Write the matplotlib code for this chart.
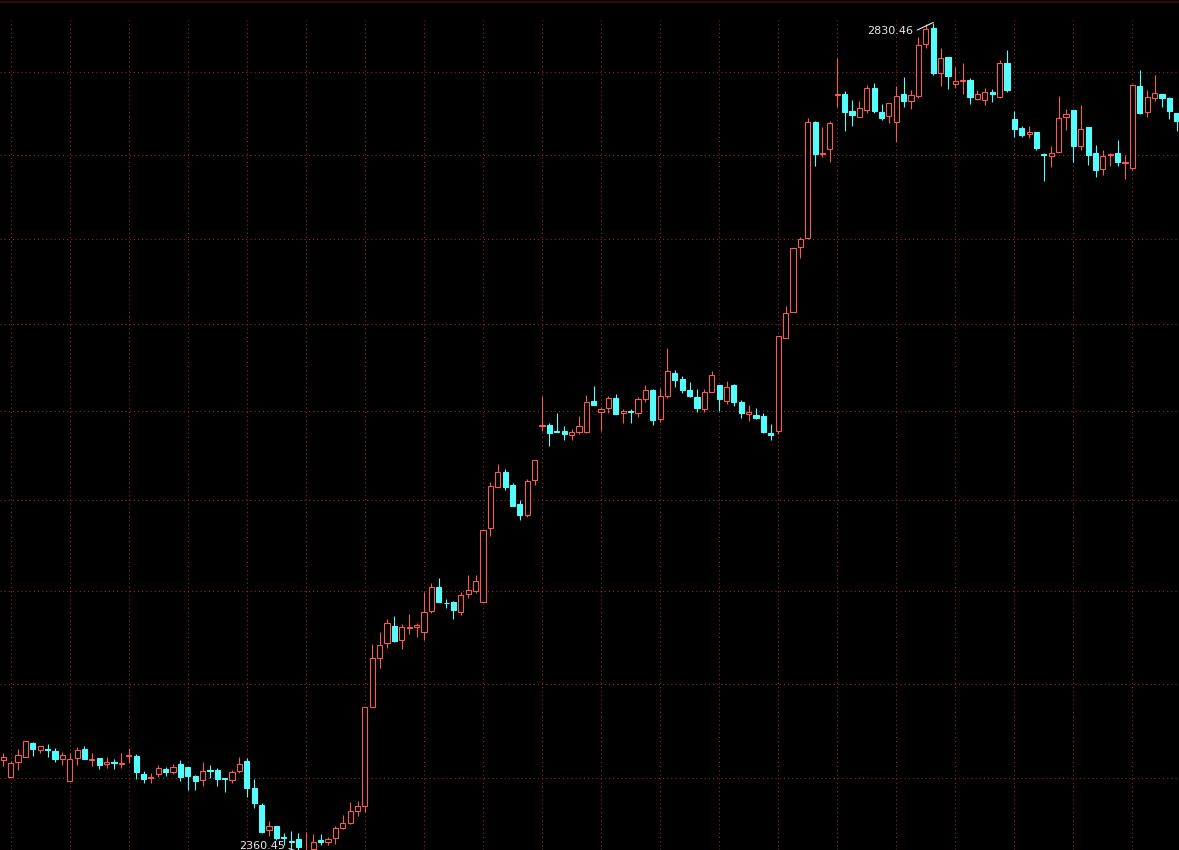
import matplotlib
matplotlib.use('Agg')
import matplotlib.pyplot as plt
from matplotlib.patches import Rectangle
from matplotlib.lines import Line2D
import numpy as np

# 日K数据
opens = [
    2409.4, 2400.7, 2408.6, 2411.0, 2418.4, 2414.8, 2415.5, 2414.1, 2410.1, 2398.4,
    2410.8, 2415.5, 2409.5, 2410.6, 2407.4, 2408.5, 2407.3, 2411.7, 2411.8, 2402.3,
    2400.0, 2402.0, 2404.8, 2403.3, 2407.4, 2405.8, 2401.1, 2399.0, 2404.2, 2404.2,
    2399.8, 2399.0, 2403.7, 2409.0, 2394.6, 2385.9, 2372.9, 2375.0, 2369.4, 2367.1,
    2368.5, 2360.9, 2363.0, 2367.7, 2366.5, 2368.9, 2374.1, 2376.7, 2382.8, 2385.5,
    2437.4, 2464.0, 2471.8, 2481.1, 2473.2, 2480.0, 2480.7, 2477.7, 2489.4, 2502.0,
    2493.7, 2493.9, 2488.8, 2498.5, 2500.2, 2494.2, 2534.9, 2557.7, 2565.8, 2558.7,
    2548.0, 2541.9, 2561.6, 2591.8, 2592.4, 2589.2, 2589.2, 2586.9, 2588.3, 2588.6,
    2606.0, 2599.5, 2602.1, 2607.7, 2598.9, 2600.4, 2598.9, 2606.9, 2612.3, 2595.6,
    2608.8, 2622.2, 2618.6, 2612.3, 2608.1, 2601.4, 2611.3, 2615.1, 2606.0, 2615.1,
    2605.4, 2598.5, 2598.0, 2597.4, 2587.7, 2589.2, 2642.3, 2657.3, 2695.3, 2700.5,
    2769.5, 2750.3, 2753.2, 2786.1, 2786.7, 2776.5, 2772.9, 2777.0, 2790.1, 2775.9,
    2773.5, 2769.9, 2786.5, 2782.4, 2785.5, 2817.0, 2827.2, 2799.6, 2809.0, 2792.5,
    2794.7, 2795.2, 2783.5, 2783.0, 2787.7, 2785.0, 2805.3, 2771.5, 2765.9, 2762.4,
    2763.5, 2750.3, 2749.3, 2751.7, 2772.9, 2777.0, 2755.3, 2766.7, 2750.7, 2741.4,
    2749.7, 2750.7, 2744.9, 2741.8, 2791.5, 2775.9, 2784.1, 2786.7, 2784.4, 2775.0,
]
highs = [
    2413.1, 2409.2, 2415.4, 2419.6, 2418.9, 2416.8, 2418.0, 2415.9, 2413.8, 2413.1,
    2416.3, 2416.6, 2413.1, 2410.6, 2411.0, 2410.1, 2413.4, 2415.9, 2412.9, 2403.7,
    2402.8, 2406.9, 2406.0, 2407.4, 2409.5, 2405.8, 2401.4, 2408.5, 2406.9, 2405.1,
    2399.8, 2404.2, 2411.0, 2410.6, 2399.5, 2386.8, 2377.6, 2375.0, 2371.5, 2372.3,
    2371.5, 2371.8, 2371.1, 2370.8, 2369.4, 2375.1, 2380.7, 2387.6, 2388.0, 2437.4,
    2471.2, 2477.7, 2484.7, 2486.5, 2482.2, 2487.6, 2482.9, 2499.6, 2504.2, 2507.0,
    2495.5, 2494.6, 2499.6, 2508.8, 2508.8, 2533.7, 2560.5, 2570.4, 2567.5, 2559.9,
    2550.2, 2561.9, 2572.5, 2608.8, 2593.3, 2599.3, 2591.8, 2589.9, 2597.4, 2609.4,
    2614.6, 2602.7, 2608.8, 2610.0, 2601.2, 2601.2, 2608.4, 2615.0, 2612.7, 2613.2,
    2636.2, 2623.7, 2620.3, 2616.9, 2612.7, 2613.0, 2623.2, 2615.1, 2617.6, 2615.5,
    2606.5, 2603.5, 2601.8, 2599.3, 2592.9, 2643.2, 2660.6, 2694.3, 2701.1, 2771.9,
    2770.3, 2766.5, 2770.3, 2808.4, 2788.5, 2783.0, 2782.4, 2792.1, 2793.5, 2780.4,
    2781.0, 2791.5, 2797.2, 2789.1, 2821.3, 2829.3, 2830.46, 2814.9, 2809.0, 2803.3,
    2805.3, 2796.5, 2789.1, 2790.5, 2789.7, 2807.4, 2813.5, 2776.4, 2767.3, 2767.3,
    2763.5, 2750.7, 2755.3, 2785.5, 2777.6, 2777.0, 2780.0, 2766.7, 2755.8, 2752.7,
    2750.7, 2758.8, 2749.7, 2792.7, 2801.2, 2789.1, 2798.2, 2786.7, 2785.0, 2775.0,
]
lows = [
    2406.5, 2400.4, 2404.2, 2410.9, 2411.8, 2413.2, 2411.3, 2408.6, 2406.7, 2398.4,
    2406.9, 2410.2, 2406.5, 2404.8, 2405.5, 2404.8, 2405.5, 2408.1, 2399.6, 2397.5,
    2397.5, 2400.7, 2401.1, 2402.0, 2398.4, 2393.7, 2393.9, 2396.0, 2399.8, 2396.0,
    2392.9, 2397.2, 2402.5, 2389.9, 2384.5, 2371.5, 2369.7, 2367.7, 2365.0, 2363.3,
    2361.9, 2360.45, 2362.4, 2365.4, 2365.0, 2365.9, 2373.4, 2375.8, 2380.3, 2382.1,
    2437.4, 2458.3, 2469.1, 2472.3, 2468.5, 2476.8, 2475.0, 2473.5, 2488.0, 2494.2,
    2491.0, 2484.9, 2487.0, 2496.4, 2499.1, 2494.2, 2530.5, 2557.7, 2555.8, 2547.1,
    2539.2, 2540.7, 2558.7, 2589.2, 2580.2, 2588.4, 2583.9, 2583.9, 2587.3, 2588.0,
    2603.7, 2589.2, 2598.9, 2598.5, 2593.7, 2593.7, 2597.0, 2605.6, 2592.4, 2594.2,
    2607.9, 2614.2, 2610.7, 2608.1, 2599.8, 2599.8, 2611.0, 2600.4, 2604.1, 2603.3,
    2596.5, 2594.8, 2595.7, 2587.7, 2583.9, 2587.3, 2642.3, 2657.3, 2688.8, 2699.8,
    2743.3, 2748.7, 2745.7, 2779.0, 2764.4, 2767.3, 2772.9, 2775.3, 2775.3, 2770.9,
    2769.1, 2757.8, 2779.0, 2777.4, 2784.1, 2814.6, 2798.2, 2791.7, 2789.7, 2790.1,
    2786.5, 2780.4, 2783.0, 2780.0, 2781.6, 2784.4, 2788.1, 2760.8, 2760.3, 2759.8,
    2752.7, 2734.2, 2742.7, 2751.7, 2764.9, 2745.4, 2752.7, 2743.8, 2736.8, 2737.8,
    2743.2, 2743.3, 2735.4, 2740.8, 2774.4, 2772.9, 2782.6, 2779.0, 2771.3, 2764.4,
]
closes = [
    2411.1, 2408.1, 2412.2, 2419.4, 2415.2, 2416.8, 2415.0, 2409.9, 2412.3, 2409.9,
    2414.8, 2410.2, 2409.9, 2406.9, 2408.3, 2407.8, 2407.8, 2412.2, 2403.3, 2399.5,
    2400.7, 2405.1, 2403.3, 2406.0, 2400.7, 2401.2, 2398.6, 2403.7, 2403.7, 2399.5,
    2399.3, 2403.2, 2407.4, 2394.9, 2386.8, 2372.0, 2375.0, 2368.9, 2368.9, 2366.6,
    2364.2, 2362.2, 2366.5, 2366.8, 2368.2, 2374.1, 2376.7, 2382.8, 2385.5, 2437.4,
    2463.7, 2470.7, 2482.6, 2473.0, 2480.4, 2480.6, 2481.6, 2488.8, 2502.0, 2494.2,
    2493.4, 2489.7, 2497.8, 2500.4, 2505.5, 2533.7, 2558.1, 2565.8, 2557.7, 2547.1,
    2541.9, 2560.9, 2572.5, 2592.4, 2588.0, 2588.4, 2587.1, 2588.4, 2591.8, 2605.4,
    2603.7, 2601.4, 2607.7, 2598.5, 2600.4, 2599.7, 2607.3, 2612.3, 2595.2, 2608.8,
    2623.2, 2618.0, 2612.3, 2608.8, 2601.8, 2611.1, 2620.9, 2607.1, 2613.8, 2605.6,
    2599.3, 2599.8, 2596.5, 2588.6, 2586.9, 2643.2, 2656.4, 2694.3, 2699.8, 2769.5,
    2750.3, 2751.1, 2768.9, 2786.7, 2775.9, 2773.9, 2778.0, 2790.1, 2776.5, 2772.1,
    2781.0, 2785.5, 2782.4, 2786.1, 2816.6, 2826.2, 2799.2, 2808.8, 2797.8, 2794.4,
    2795.3, 2785.0, 2786.5, 2788.1, 2786.7, 2805.3, 2789.1, 2765.6, 2762.0, 2763.8,
    2754.1, 2749.7, 2750.7, 2771.9, 2774.5, 2755.3, 2765.5, 2749.7, 2740.8, 2749.1,
    2750.3, 2745.7, 2745.5, 2792.1, 2775.3, 2784.9, 2787.1, 2784.4, 2776.5, 2770.5,
]

grid_prices = [2400, 2450, 2500, 2550, 2600, 2650, 2700, 2750, 2800]

UP = '#f25c54'
DOWN = '#54fcfc'
GRID = '#8c2b2b'
LW = 0.8

plt.rcParams['lines.scale_dashes'] = False

fig = plt.figure(figsize=(11.79, 8.5), dpi=100, facecolor='black')
ax = fig.add_axes([0, 0, 1, 1])
ax.set_facecolor('black')
ax.set_yscale('log')
ax.set_xlim(-0.447, 159.31)
ax.set_ylim(2362.6, 2844.4)
ax.axis('off')

# 网格（红色点线）
for p in grid_prices:
    ax.axhline(p, color=GRID, lw=0.8, ls=(0, (0.8, 2.2)), zorder=1)
for i in range(1, len(opens), 8):
    ax.axvline(i, ymax=0.9765, color=GRID, lw=0.8, ls=(0, (0.8, 2.2)), zorder=1)
# 顶部暗红边线
fig.add_artist(Line2D([0, 1], [1 - 2 / 850] * 2, transform=fig.transFigure,
                      color='#3a0c0c', lw=1.2))

w = 0.7
for i, (o, h, l, c) in enumerate(zip(opens, highs, lows, closes)):
    if c >= o:
        # 阳线：空心红
        ax.vlines(i, c, h, color=UP, lw=LW, zorder=3)
        ax.vlines(i, l, o, color=UP, lw=LW, zorder=3)
        ax.add_patch(Rectangle((i - w / 2, o), w, max(c - o, 0.05),
                               facecolor='black', edgecolor=UP, lw=LW, zorder=4))
    else:
        # 阴线：实心青
        ax.vlines(i, l, h, color=DOWN, lw=LW, zorder=3)
        ax.add_patch(Rectangle((i - w / 2, c), w, o - c,
                               facecolor=DOWN, edgecolor=DOWN, lw=LW, zorder=4))

# 最高 / 最低 标注
i_hi = int(np.argmax(highs))
i_lo = int(np.argmin(lows))
ax.annotate(f"{highs[i_hi]:.2f}", xy=(i_hi, highs[i_hi]), xytext=(-20, -8.5),
            textcoords='offset pixels', ha='right', va='center',
            color='#e8e8e8', fontsize=8, family='DejaVu Sans',
            arrowprops=dict(arrowstyle='-', color='#e8e8e8', lw=0.8,
                            relpos=(1, 0.4), shrinkA=1, shrinkB=0),
            annotation_clip=False, zorder=6)
ax.annotate(f"{lows[i_lo]:.2f}", xy=(i_lo, lows[i_lo]), xytext=(-21, 8),
            textcoords='offset pixels', ha='right', va='center',
            color='#e8e8e8', fontsize=8, family='DejaVu Sans',
            arrowprops=dict(arrowstyle='-', color='#e8e8e8', lw=0.8,
                            relpos=(1, 0.4), shrinkA=1, shrinkB=0),
            annotation_clip=False, zorder=6)

fig.savefig('out.png', dpi=100, facecolor='black')
